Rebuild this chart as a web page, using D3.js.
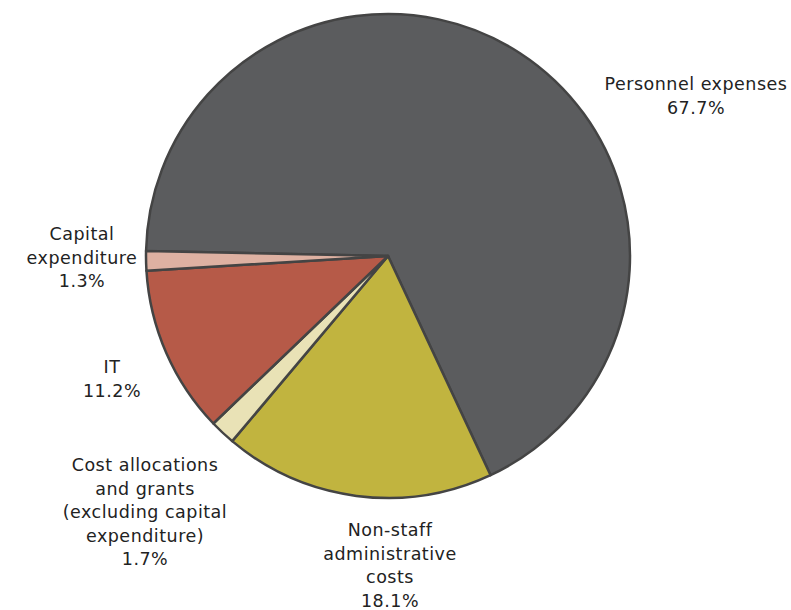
<!DOCTYPE html>
<html>
<head>
<meta charset="utf-8">
<script src="https://cdn.jsdelivr.net/npm/d3@7"></script>
<style>
  body { margin: 0; background: #fff; }
  text { font-family: "DejaVu Sans", Verdana, sans-serif; font-size: 17.5px; letter-spacing: 0.5px; fill: #222; }
</style>
</head>
<body>
<svg id="pie" width="791" height="610"></svg>
<script>
(function () {
    const categories = ["Personnel expenses", "Non-staff administrative costs",
        "Cost allocations and grants (excluding capital expenditure)", "IT", "Capital expenditure"]
    const values = [67.7, 18.1, 1.7, 11.2, 1.3]
    const labelLines = [
        ["Personnel expenses", "67.7%"],
        ["Non-staff", "administrative", "costs", "18.1%"],
        ["Cost allocations", "and grants", "(excluding capital", "expenditure)", "1.7%"],
        ["IT", "11.2%"],
        ["Capital", "expenditure", "1.3%"]
    ]
    const colors = ["#5b5c5e", "#c1b43f", "#e9e2b6", "#b65a48", "#deb1a2"]

    const width = 791, height = 610
    const cx = 388, cy = 256, radius = 242
    // label anchor (baseline of first line) per slice
    const labelPos = [[696, 90], [390, 536], [145, 471], [112, 373], [82, 240]]
    const lineH = 23.6

    const svg = d3.select("#pie")
    const chart = svg.append("g").attr("transform", `translate(${cx},${cy})`)

    const start = -88.8 * Math.PI / 180
    const pie = d3.pie().sort(null)
        .startAngle(start).endAngle(start + 2 * Math.PI)
    const arc = d3.arc().innerRadius(0).outerRadius(radius)

    const arcs = pie(values)

    chart.selectAll("path")
        .data(arcs)
        .enter()
        .append("path")
        .attr("d", arc)
        .style("fill", (d, i) => colors[i])
        .style("stroke", "#444")
        .style("stroke-width", 2.5)
        .style("stroke-linejoin", "round")

    // labels
    const labels = svg.append("g").selectAll("text")
        .data(labelLines)
        .enter()
        .append("text")
        .attr("text-anchor", "middle")
        .attr("x", (d, i) => labelPos[i][0])
        .attr("y", (d, i) => labelPos[i][1])

    labels.selectAll("tspan")
        .data((d, i) => d.map(t => ({ t: t, i: i })))
        .enter()
        .append("tspan")
        .attr("x", d => labelPos[d.i][0])
        .attr("dy", (d, j) => j === 0 ? 0 : lineH)
        .text(d => d.t)
})();
</script>
</body>
</html>
